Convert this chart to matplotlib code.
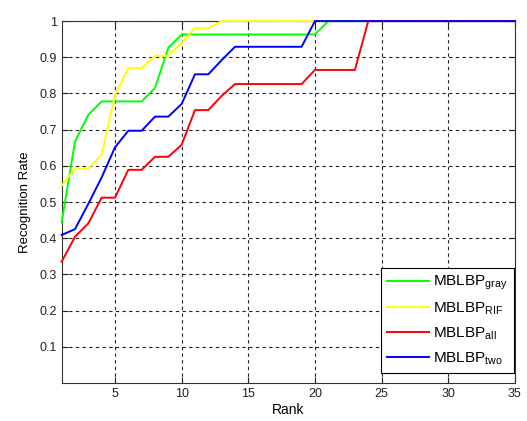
import numpy as np
import matplotlib
matplotlib.use('Agg')
import matplotlib.pyplot as plt

# Fuente tipo Arial (estilo MATLAB)
plt.rcParams['font.family'] = ['Liberation Sans', 'DejaVu Sans']
plt.rcParams['mathtext.fontset'] = 'custom'
plt.rcParams['mathtext.rm'] = 'Liberation Sans'
plt.rcParams['mathtext.it'] = 'Liberation Sans'

# Datos
rank = np.arange(1, 36)
mblbp_gray = [0.444, 0.667, 0.741, 0.778, 0.778, 0.778, 0.778, 0.815, 0.926, 0.963,
              0.963, 0.963, 0.963, 0.963, 0.963, 0.963, 0.963, 0.963, 0.963, 0.963,
              1.0, 1.0, 1.0, 1.0, 1.0, 1.0, 1.0, 1.0, 1.0, 1.0,
              1.0, 1.0, 1.0, 1.0, 1.0]
mblbp_rif = [0.545, 0.593, 0.593, 0.63, 0.796, 0.87, 0.87, 0.904, 0.904, 0.94,
             0.98, 0.98, 1.0, 1.0, 1.0, 1.0, 1.0, 1.0, 1.0, 1.0,
             1.0, 1.0, 1.0, 1.0, 1.0, 1.0, 1.0, 1.0, 1.0, 1.0,
             1.0, 1.0, 1.0, 1.0, 1.0]
mblbp_all = [0.335, 0.404, 0.441, 0.512, 0.512, 0.589, 0.589, 0.625, 0.625, 0.658,
             0.754, 0.754, 0.793, 0.826, 0.826, 0.826, 0.826, 0.826, 0.826, 0.865,
             0.865, 0.865, 0.865, 1.0, 1.0, 1.0, 1.0, 1.0, 1.0, 1.0,
             1.0, 1.0, 1.0, 1.0, 1.0]
mblbp_two = [0.409, 0.425, 0.495, 0.568, 0.651, 0.697, 0.697, 0.736, 0.736, 0.771,
             0.853, 0.853, 0.892, 0.929, 0.929, 0.929, 0.929, 0.929, 0.929, 1.0,
             1.0, 1.0, 1.0, 1.0, 1.0, 1.0, 1.0, 1.0, 1.0, 1.0,
             1.0, 1.0, 1.0, 1.0, 1.0]

labels = [r'MBLBP$_{\mathrm{gray}}$', r'MBLBP$_{\mathrm{RIF}}$',
          r'MBLBP$_{\mathrm{all}}$', r'MBLBP$_{\mathrm{two}}$']
colors = ['#00ff00', '#ffff00', '#ff0000', '#0000ff']
x_ticks = [5, 10, 15, 20, 25, 30, 35]
y_ticks = [0.1, 0.2, 0.3, 0.4, 0.5, 0.6, 0.7, 0.8, 0.9, 1]

fig = plt.figure(figsize=(5.27, 4.21), dpi=100)
ax = fig.add_axes([0.117, 0.0903, 0.860, 0.8596])

# lineas encima del borde (como en MATLAB)
for serie, lab, col in zip([mblbp_gray, mblbp_rif, mblbp_all, mblbp_two], labels, colors):
    ax.plot(rank, serie, color=col, linewidth=1.4, label=lab, clip_on=False, zorder=3)

ax.set_xlim(1, 35)
ax.set_ylim(0, 1)
ax.set_xticks(x_ticks)
ax.set_yticks(y_ticks)
ax.set_yticklabels(['0.1', '0.2', '0.3', '0.4', '0.5', '0.6', '0.7', '0.8', '0.9', '1'])

# Rejilla punteada estilo MATLAB
ax.grid(True, color='#222222', linestyle=(0, (3, 3)), linewidth=0.8)
ax.tick_params(direction='in', length=4, top=True, right=True, labelsize=9, colors='#222222')
for s in ax.spines.values():
    s.set_color('#333333')
    s.set_linewidth(0.8)

ax.set_xlabel('Rank', fontsize=10, labelpad=2)
ax.set_ylabel('Recognition Rate', fontsize=9.5, labelpad=6)

leg = ax.legend(loc='lower right', bbox_to_anchor=(0.998, 0.028), borderaxespad=0,
                fontsize=11, fancybox=False, framealpha=1, edgecolor='k',
                handlelength=2.75, handletextpad=0.3, labelspacing=0.55)
leg.get_frame().set_linewidth(0.8)
leg.set_zorder(5)

plt.savefig('out.png', dpi=100)
